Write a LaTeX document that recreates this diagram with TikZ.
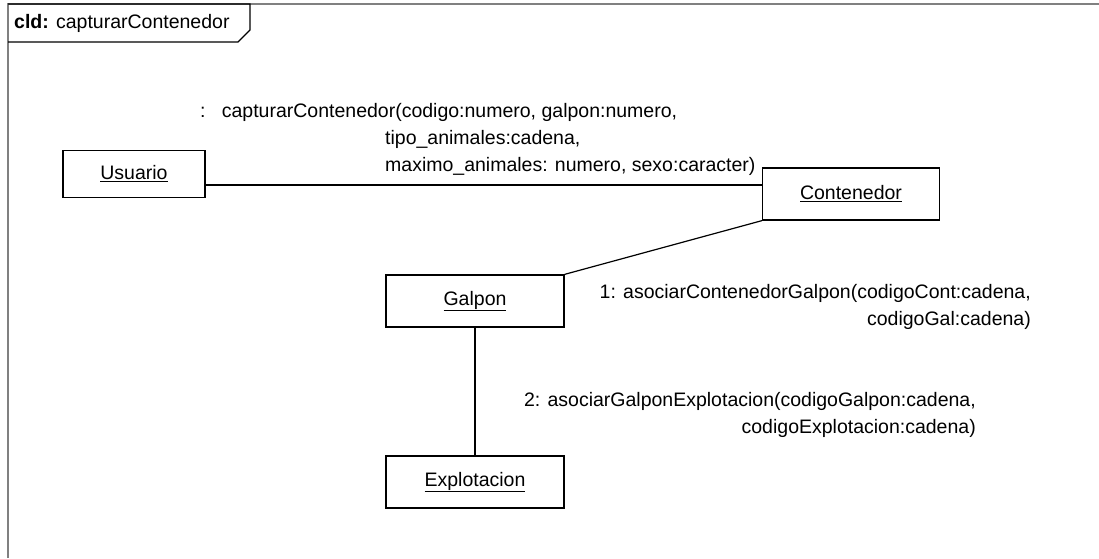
\documentclass[tikz,border=0pt]{standalone}
\usepackage{fontspec}
\setmainfont{Liberation Sans}
\usepackage{tikz}
\usetikzlibrary{positioning, calc}
\definecolor{framegray}{RGB}{128,128,128}
\newcommand{\umlfont}{\fontsize{19.5}{27}\selectfont}
\tikzset{
  objbox/.style={rectangle, draw=black, fill=white, line width=1.3pt,
    minimum width=178pt, minimum height=52pt, font=\umlfont},
  msg/.style={inner sep=0pt, font=\umlfont},
  link/.style={line width=1.2pt, color=black}
}

\begin{document}
\begin{tikzpicture}[x=1pt, y=-1pt]
  \useasboundingbox (0,0) rectangle (1099,558);

  % Frame and tab
  \draw[framegray, line width=2pt] (8,558) -- (8,4) -- (1099,4);
  \draw[line width=1.3pt] (8,4) -- (250,4) -- (250,30) -- (238,42) -- (8,42);
  \node[msg, anchor=west] (title) at (14,23) {\textbf{cld:} capturarContenedor};

  % Objects
  \node[objbox, minimum width=142pt, minimum height=47pt] (usuario) at (134,174) {\underline{Usuario}};
  \node[objbox, minimum width=177pt] (contenedor) at (851,194) {\underline{Contenedor}};
  \node[objbox] (galpon) at (475,301) {\underline{Galpon}};
  \node[objbox] (explotacion) at (475,482) {\underline{Explotacion}};

  % Links
  \draw[link] ([yshift=-11pt]usuario.east) -- ([yshift=-11pt]usuario.east -| contenedor.west);
  \draw[link] (contenedor.south west) -- (galpon.north east);
  \draw[link] (galpon) -- (explotacion);

  % Messages
  \node[msg, anchor=north west, align=left] (msgcaptura) at (200,103)
    {:\ \ \ capturarContenedor(codigo:numero, galpon:numero,\\
     \hspace*{185pt}tipo\_animales:cadena,\\
     \hspace*{185pt}maximo\_animales: numero, sexo:caracter)};
  \node[msg, anchor=north east, align=right] (msgasociar1) at (1031,284)
    {1: asociarContenedorGalpon(codigoCont:cadena,\\ codigoGal:cadena)};
  \node[msg, anchor=north east, align=right] (msgasociar2) at (976,392)
    {2: asociarGalponExplotacion(codigoGalpon:cadena,\\ codigoExplotacion:cadena)};
\end{tikzpicture}
\end{document}
